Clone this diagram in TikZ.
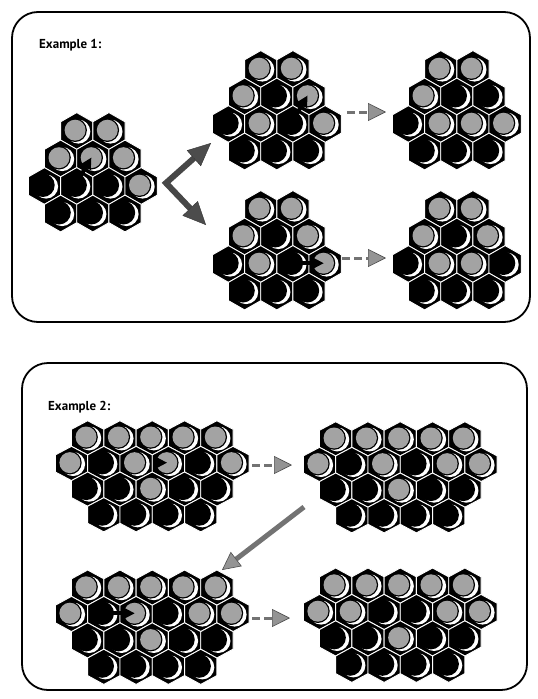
\documentclass[tikz,border=0pt]{standalone}
\usepackage{fontspec}
\setsansfont{PT Sans}
\usetikzlibrary{arrows.meta,calc}

\tikzset{
  ball g/.style={fill=black!36},
  ball b/.style={fill=black},
  panel/.style={draw=black,line width=1.8pt,rounded corners=26pt},
  heading/.style={font=\sffamily\bfseries\fontsize{13}{15}\selectfont,anchor=base west,inner sep=0pt},
  head/.tip={Triangle[length=18pt,width=18pt,fill=black!42,color=black!70,line width=0.6pt]},
  bighead/.tip={Triangle[length=23pt,width=21pt,fill=black!70,color=black!80,line width=0.4pt]},
  move/.style={draw=black!55,line width=3pt,dash pattern=on 8pt off 4pt,-head},
  slide/.style={draw=black!55,line width=5pt,-head},
  fork/.style={draw=black!72,line width=6pt,line join=miter,bighead-bighead},
  shaft/.style={draw=black,line width=4pt},
}

% one board cell: black hexagon, white shadow crescent, marble of kind #3
\newcommand\hexcell[3]{%
  \fill[black,draw=white,line width=0.9pt] (#1,#2) +(0,-\hr) -- +(\hw,-\hr/2) -- +(\hw,\hr/2)
     -- +(0,\hr) -- +(-\hw,\hr/2) -- +(-\hw,-\hr/2) -- cycle;
  \fill[white] (#1,#2) ++(1.6,0.6) circle[radius=12];
  \fill[black] (#1,#2) ++(-1.6,-0.8) circle[radius=11.8];
  \fill[ball #3] (#1,#2) ++(-1.6,-0.8) circle[radius=10.5];
}
\newcommand\hexrow[4]{%
  \foreach[count=\k from 0] \t in {#4}{\hexcell{#1+\k*#3}{#2}{\t}}}

% 2-3-4-3 board, #1,#2 = centre of first cell of the long row / top row height
\newcommand\smallboard[6]{%
  \def\hw{16.1}\def\hr{18.4}%
  \hexrow{#1+32.2}{#2}{32.2}{#3}
  \hexrow{#1+16.1}{#2+27.5}{32.2}{#4}
  \hexrow{#1}{#2+55}{32.2}{#5}
  \hexrow{#1+16.1}{#2+82.5}{32.2}{#6}}
% 5-6-5-4 board, #1,#2 = centre of first cell of the long row / top row height
\newcommand\wideboard[7]{%
  \def\hw{16.15}\def\hr{#3}%
  \pgfmathsetmacro\dy{1.5*#3}%
  \hexrow{#1+16.15}{#2}{32.3}{#4}
  \hexrow{#1}{#2+\dy}{32.3}{#5}
  \hexrow{#1+16.15}{#2+2*\dy}{32.3}{#6}
  \hexrow{#1+32.3}{#2+3*\dy}{32.3}{#7}}

% black pushing wedge: shaft from marble #1 into the mouth of marble #2
\newcommand\mouth[2]{%
  \fill[black] (#2) -- ($(#2)!12.5pt!28:(#1)$) -- ($(#2)!12.5pt!-28:(#1)$) -- cycle;}
\newcommand\push[2]{%
  \draw[shaft] (#1) -- ($(#2)!11pt!(#1)$);
  \mouth{#1}{#2}}

\begin{document}
\begin{tikzpicture}[x=1pt,y=-1pt]
\useasboundingbox (0,0) rectangle (538,699);

% ---------------- first panel ----------------
\draw[panel] (12,12) rectangle (530,322);
\node[heading] (h1) at (39,48) {Example 1:};

\smallboard{44.5}{131}{g,g}{g,g,g}{b,b,b,g}{b,b,b}
\smallboard{228.5}{69}{g,g}{g,b,g}{b,g,b,g}{b,b,b}
\smallboard{408.5}{69}{g,g}{g,b,b}{b,g,g,g}{b,b,b}
\smallboard{228.5}{209}{g,g}{g,b,g}{b,g,b,g}{b,b,b}
\smallboard{408.5}{209}{g,g}{g,b,g}{b,g,g,b}{b,b,b}

\coordinate (a-s) at (75.2,185.2);   \coordinate (a-t) at (91.3,157.7);
\coordinate (b-s) at (291.4,123.2);  \coordinate (b-t) at (307.5,95.7);
\coordinate (d-s) at (291.4,263.2);  \coordinate (d-t) at (323.6,263.2);
\push{a-s}{a-t}
\push{b-s}{b-t}
\push{d-s}{d-t}

\coordinate (fork-up) at (211,143);
\coordinate (fork-tip) at (166,183);
\coordinate (fork-down) at (206,225);
\draw[fork] (fork-up) -- (fork-tip) -- (fork-down);

\coordinate (m1a) at (347,112); \coordinate (m1b) at (386,112);
\coordinate (m2a) at (342,258); \coordinate (m2b) at (386,258);
\draw[move] (m1a) -- (m1b);
\draw[move] (m2a) -- (m2b);

% ---------------- second panel ----------------
\draw[panel] (22,363) rectangle (527,690);
\node[heading] (h2) at (48,410) {Example 2:};

\wideboard{71.5}{437.8}{17.1}{g,g,g,g,g}{g,b,g,g,b,g}{b,b,g,b,b}{b,b,b,b}
\wideboard{319.5}{438.8}{17.1}{g,g,g,g,g}{g,b,g,b,g,g}{b,b,g,b,b}{b,b,b,b}
\wideboard{71.5}{587.6}{17.6}{g,g,g,g,g}{g,b,g,b,g,g}{b,b,g,b,b}{b,b,b,b}
\wideboard{319.5}{585.6}{17.6}{g,g,g,g,g}{g,g,b,b,g,g}{b,b,g,b,b}{b,b,b,b}

\coordinate (e-s) at (140,462.7);    \coordinate (e-t) at (166.9,462.7);
\coordinate (f-s) at (102.3,613.3);  \coordinate (f-t) at (134.6,613.3);
\mouth{e-s}{e-t}
\push{f-s}{f-t}

\coordinate (m3a) at (252,465); \coordinate (m3b) at (292,465);
\coordinate (m4a) at (252,618); \coordinate (m4b) at (290,618);
\coordinate (m5a) at (304,507); \coordinate (m5b) at (222,570);
\draw[move] (m3a) -- (m3b);
\draw[move] (m4a) -- (m4b);
\draw[slide] (m5a) -- (m5b);
\end{tikzpicture}
\end{document}
